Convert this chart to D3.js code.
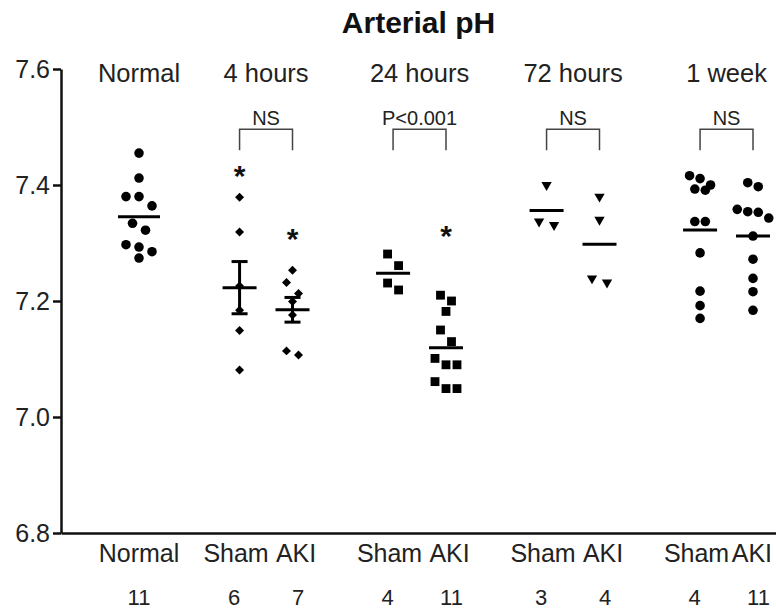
<!DOCTYPE html>
<html>
<head>
<meta charset="utf-8">
<script src="https://cdn.jsdelivr.net/npm/d3@7"></script>
<style>
  body { margin: 0; background: #fff; }
  svg { display: block; font-family: "Liberation Sans", Arial, sans-serif; }
</style>
</head>
<body>
<div id="graph"></div>
<script>
// categories
const timepoints = ["Normal", "4 hours", "24 hours", "72 hours", "1 week"];
const arms = ["Normal", "Sham", "AKI", "Sham", "AKI", "Sham", "AKI", "Sham", "AKI"];
const armTime = ["Normal", "4 hours", "4 hours", "24 hours", "24 hours", "72 hours", "72 hours", "1 week", "1 week"];
const counts = ["11", "6", "7", "4", "11", "3", "4", "4", "11"];

// arterial pH, one array per column
const normalPH = [7.455, 7.412, 7.38, 7.38, 7.364, 7.334, 7.322, 7.297, 7.293, 7.285, 7.274];
const sham4h = [7.379, 7.319, 7.226, 7.184, 7.149, 7.081];
const aki4h = [7.253, 7.232, 7.213, 7.199, 7.176, 7.114, 7.107];
const sham24h = [7.281, 7.261, 7.231, 7.219];
const aki24h = [7.21, 7.2, 7.182, 7.15, 7.13, 7.101, 7.09, 7.09, 7.061, 7.049, 7.049];
const sham72h = [7.4, 7.337, 7.331];
const aki72h = [7.38, 7.34, 7.239, 7.232];
const sham1w = [7.416, 7.411, 7.4, 7.393, 7.391, 7.337, 7.337, 7.283, 7.217, 7.192, 7.17];
const aki1w = [7.404, 7.397, 7.358, 7.354, 7.353, 7.343, 7.312, 7.272, 7.239, 7.216, 7.184];
const columnValues = [normalPH, sham4h, aki4h, sham24h, aki24h, sham72h, aki72h, sham1w, aki1w];

// comparisons and significance marks
const comparisons = [["4 hours", "NS"], ["24 hours", "P<0.001"], ["72 hours", "NS"], ["1 week", "NS"]];
const stars = [[1, 7.427], [2, 7.319], [4, 7.324]]; // column index, pH
const semTimes = ["4 hours"];
const yTicks = [6.8, 7.0, 7.2, 7.4, 7.6];

const W = 776, H = 612;
const axisX = 61;
const svg = d3.select("#graph").append("svg").attr("width", W).attr("height", H);

const y = d3.scaleLinear().domain([6.8, 7.6]).range([533, 69]);
const slot = i => i + timepoints.indexOf(armTime[i]) * 0.9;
const x = d3.scaleLinear().domain([0, slot(arms.length - 1)]).range([139, 753]);
const colX = i => x(slot(i));
const colsOf = t => arms.map((a, i) => i).filter(i => armTime[i] === t);
const groupX = t => d3.mean(colsOf(t), colX);
// text under a pair sits a bit wider than the columns themselves
const labelX = (i, spread) => {
  const cols = colsOf(armTime[i]);
  if (cols.length < 2) return colX(i);
  return groupX(armTime[i]) + (i === cols[0] ? -spread : spread);
};

const symbolFor = {
  "Normal": { type: d3.symbolCircle, size: 72, rot: 0, rowH: 10, gap: 13 },
  "4 hours": { type: d3.symbolSquare, size: 40, rot: 45, rowH: 12, gap: 12 },
  "24 hours": { type: d3.symbolSquare, size: 78, rot: 0, rowH: 12, gap: 11 },
  "72 hours": { type: d3.symbolTriangle, size: 46, rot: 180, rowH: 12, gap: 15 },
  "1 week": { type: d3.symbolCircle, size: 72, rot: 0, rowH: 10, gap: 10.5 }
};

// column scatter: points close in value share a row and spread sideways
function swarm(vals, cx, rowH, gap) {
  const pts = vals.map(v => ({ v: v, y: y(v) })).sort((a, b) => a.y - b.y);
  const rows = [];
  pts.forEach(p => {
    const row = rows[rows.length - 1];
    if (row && p.y - row[0].y < rowH) row.push(p);
    else rows.push([p]);
  });
  rows.forEach(row => row.forEach((p, k) => { p.x = cx + (k - (row.length - 1) / 2) * gap; }));
  return pts;
}

// keep centred texts inside the right edge
function keepInside(sel) {
  sel.each(function() {
    const w = this.getComputedTextLength();
    const cx = +this.getAttribute("x");
    if (cx + w / 2 > W - 4) this.setAttribute("x", W - 4 - w / 2);
  });
}

// title
svg.append("text")
  .attr("x", (axisX + W) / 2).attr("y", 33)
  .attr("text-anchor", "middle")
  .attr("font-size", 30).attr("font-weight", "bold").attr("fill", "#111")
  .text("Arterial pH");

// axes
const yAxis = svg.append("g")
  .attr("transform", `translate(${axisX},0)`)
  .call(d3.axisLeft(y).tickValues(yTicks).tickFormat(d3.format(".1f")).tickSize(8).tickSizeOuter(0).tickPadding(3));
yAxis.selectAll("path, line").attr("stroke", "#111").attr("stroke-width", 2.5);
yAxis.selectAll("text").attr("font-size", 25).attr("fill", "#222").attr("font-family", "inherit");

const xAxis = svg.append("g")
  .attr("transform", `translate(0,${y(6.8)})`)
  .call(d3.axisBottom(d3.scaleLinear().range([axisX, W])).tickValues([]).tickSizeOuter(0));
xAxis.select("path").attr("stroke", "#111").attr("stroke-width", 2.5);

// group labels on top
svg.append("g").selectAll("text").data(timepoints).join("text")
  .attr("x", groupX).attr("y", 82)
  .attr("text-anchor", "middle").attr("font-size", 25.5).attr("fill", "#222")
  .text(d => d)
  .call(keepInside);

// column labels and counts below
svg.append("g").selectAll("text").data(arms).join("text")
  .attr("x", (d, i) => labelX(i, 30)).attr("y", 562)
  .attr("text-anchor", "middle").attr("font-size", 25).attr("fill", "#222")
  .text(d => d)
  .call(keepInside);
svg.append("g").selectAll("text").data(counts).join("text")
  .attr("x", (d, i) => labelX(i, 32)).attr("y", 605)
  .attr("text-anchor", "middle").attr("font-size", 22).attr("fill", "#222")
  .text(d => d)
  .call(keepInside);

// points, means, error bars
const marks = svg.append("g");
columnValues.forEach((vals, i) => {
  const t = armTime[i];
  const s = symbolFor[t];
  const cx = colX(i);
  const pts = swarm(vals, cx, s.rowH, s.gap);
  marks.append("g").selectAll("path").data(pts).join("path")
    .attr("d", d3.symbol().type(s.type).size(s.size))
    .attr("transform", d => `translate(${d.x},${d.y}) rotate(${s.rot})`)
    .attr("fill", "#000");

  const m = d3.mean(vals);
  const hw = i === 0 ? 21 : 17;
  marks.append("line")
    .attr("x1", cx - hw).attr("x2", cx + hw)
    .attr("y1", y(m)).attr("y2", y(m))
    .attr("stroke", "#000").attr("stroke-width", 3);

  if (semTimes.includes(t)) {
    const sem = d3.deviation(vals) / Math.sqrt(vals.length);
    const eb = marks.append("g").attr("stroke", "#000").attr("stroke-width", 3);
    eb.append("line").attr("x1", cx).attr("x2", cx).attr("y1", y(m + sem)).attr("y2", y(m - sem));
    [m + sem, m - sem].forEach(v => {
      eb.append("line").attr("x1", cx - 8).attr("x2", cx + 8).attr("y1", y(v)).attr("y2", y(v));
    });
  }
});

// brackets
const bracketTop = y(7.496), bracketLeg = y(7.46);
comparisons.forEach(([t, label]) => {
  const idx = colsOf(t);
  const x1 = colX(idx[0]), x2 = colX(idx[1]);
  svg.append("path")
    .attr("d", `M${x1},${bracketLeg}V${bracketTop}H${x2}V${bracketLeg}`)
    .attr("fill", "none").attr("stroke", "#444").attr("stroke-width", 1.5);
  svg.append("text")
    .attr("x", (x1 + x2) / 2).attr("y", bracketTop - 4)
    .attr("text-anchor", "middle").attr("font-size", 20).attr("fill", "#222")
    .text(label);
});

// asterisks
svg.append("g").selectAll("text").data(stars).join("text")
  .attr("x", d => colX(d[0])).attr("y", d => y(d[1]) + 17)
  .attr("text-anchor", "middle").attr("font-size", 30).attr("font-weight", "bold").attr("fill", "#111")
  .text("*");
</script>
</body>
</html>
